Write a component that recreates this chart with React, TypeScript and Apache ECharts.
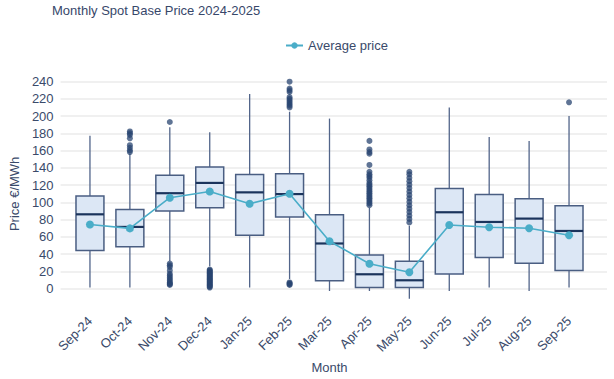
import React, { useEffect, useRef } from "react";
import * as echarts from "echarts";

const months = ["Sep-24", "Oct-24", "Nov-24", "Dec-24", "Jan-25", "Feb-25", "Mar-25", "Apr-25", "May-25", "Jun-25", "Jul-25", "Aug-25", "Sep-25"];
const whiskerLow = [0, 0, 31, 25, 0, 10, -4, -4, -13, -4, 0, -4, 0];
const quartile1 = [43.3, 47.6, 89.3, 93, 61, 82.3, 8.1, 0, 0, 15.9, 35.2, 28.3, 20];
const medians = [85.4, 70.7, 110, 122, 111, 109, 51.4, 15.5, 8.5, 87.8, 76.5, 80.4, 66];
const quartile3 = [106.7, 91, 131, 140.7, 131.8, 132.6, 85, 38, 30.6, 115.6, 108.6, 103.6, 95.5];
const whiskerHigh = [177, 156, 187, 181, 225.7, 205, 197, 93, 72, 210, 175.5, 171, 200];
const averagePrice = [73.5, 69, 104.8, 112, 97.8, 109.4, 54, 27.8, 17.8, 73, 70.4, 69.2, 61];
const outliers: number[][] = [
  [],
  [182, 180, 178, 174, 166, 163, 160, 158],
  [193, 28, 26, 24, 20, 16, 14, 12, 10, 8, 6, 5, 4, 3],
  [21, 20, 19, 18, 17, 16, 15, 14, 13, 12, 11, 10, 9, 8, 7, 6, 5, 4, 3, 2, 1, 0],
  [],
  [240, 232, 230, 228, 222, 220, 218, 216, 214, 212, 210, 6, 5, 4, 3],
  [],
  [171, 161, 158, 156, 143, 135, 132, 130, 128, 125, 122, 120, 118, 116, 114, 112, 110, 108, 106, 104, 102, 100, 98, 96],
  [135, 132, 128, 124, 120, 116, 112, 108, 104, 100, 96, 92, 88, 84, 80, 76],
  [],
  [],
  [],
  [216],
];

const TEXT = "#3a4a6a";
const FONT = "Liberation Sans, Arial, sans-serif";

export default function App() {
  const ref = useRef<HTMLDivElement>(null);
  useEffect(() => {
    if (!ref.current) return;
    const chart = echarts.init(ref.current, undefined, { renderer: "svg" });
    const boxData = months.map((_, i) => [i, whiskerLow[i], quartile1[i], medians[i], quartile3[i], whiskerHigh[i]]);
    const outlierData: number[][] = [];
    outliers.forEach((arr, i) => arr.forEach((v) => outlierData.push([i, v])));
    chart.setOption({
      animation: false,
      backgroundColor: "#ffffff",
      textStyle: { fontFamily: FONT },
      title: {
        text: "Monthly Spot Base Price 2024-2025",
        left: 52,
        top: 4,
        padding: 0,
        textStyle: { fontSize: 13, fontWeight: "normal", color: "#37476a", fontFamily: FONT },
      },
      legend: {
        data: ["Average price"],
        left: 280,
        top: 34,
        itemWidth: 17,
        itemHeight: 8,
        itemGap: 8,
        textStyle: { fontSize: 13, color: TEXT, fontFamily: FONT },
      },
      grid: [
        { left: 52, right: 7, top: 81.7, bottom: 73 },
        { left: 70, right: 25, top: 81.7, bottom: 73 },
      ],
      xAxis: [
        { type: "value", gridIndex: 0, min: 0, max: 1, show: false },
        {
          type: "category",
          gridIndex: 1,
          data: months,
          boundaryGap: true,
          axisLine: { show: false },
          axisTick: { show: false },
          axisLabel: { rotate: 45, fontSize: 13, color: TEXT, margin: 14, interval: 0, fontFamily: FONT },
          name: "Month",
          nameLocation: "middle",
          nameGap: 53,
          nameTextStyle: { fontSize: 13, color: TEXT, fontFamily: FONT },
        },
      ],
      yAxis: [
        {
          type: "value",
          gridIndex: 0,
          min: -20,
          max: 240,
          interval: 20,
          axisLine: { show: false },
          axisTick: { show: false },
          axisLabel: {
            fontSize: 13,
            color: TEXT,
            margin: 7,
            fontFamily: FONT,
            formatter: (v: number) => (v < 0 ? "" : String(v)),
          },
          splitLine: { show: true, showMinLine: false, lineStyle: { color: "#ebebeb", width: 1.5 } },
          name: "Price €/MWh",
          nameLocation: "middle",
          nameGap: 38,
          nameRotate: 90,
          nameTextStyle: { fontSize: 13, color: TEXT, fontFamily: FONT },
        },
        { type: "value", gridIndex: 1, min: -20, max: 240, interval: 20, show: false },
      ],
      series: [
        {
          type: "custom",
          name: "Distribution",
          xAxisIndex: 1,
          yAxisIndex: 1,
          data: boxData,
          encode: { x: 0, y: [1, 2, 3, 4, 5] },
          z: 2,
          renderItem: (params: any, api: any) => {
            const i = api.value(0);
            const lo = api.coord([i, api.value(1)]);
            const q1p = api.coord([i, api.value(2)]);
            const md = api.coord([i, api.value(3)]);
            const q3p = api.coord([i, api.value(4)]);
            const hi = api.coord([i, api.value(5)]);
            const bw = api.size([1, 0])[0] * 0.7;
            const x = lo[0];
            return {
              type: "group",
              children: [
                { type: "line", shape: { x1: x, y1: lo[1], x2: x, y2: hi[1] }, style: { stroke: "#52658a", lineWidth: 1.3 } },
                {
                  type: "rect",
                  shape: { x: x - bw / 2, y: q3p[1], width: bw, height: q1p[1] - q3p[1] },
                  style: { fill: "#dce7f5", stroke: "#4a5e82", lineWidth: 1.5 },
                },
                { type: "line", shape: { x1: x - bw / 2, y1: md[1], x2: x + bw / 2, y2: md[1] }, style: { stroke: "#1b345c", lineWidth: 2.2 } },
              ],
            };
          },
        },
        {
          type: "scatter",
          name: "Outliers",
          xAxisIndex: 1,
          yAxisIndex: 1,
          data: outlierData,
          symbol: "circle",
          symbolSize: 6,
          itemStyle: { color: "#2a4672", opacity: 0.75 },
          z: 3,
        },
        {
          type: "line",
          name: "Average price",
          xAxisIndex: 1,
          yAxisIndex: 1,
          data: averagePrice,
          symbol: "circle",
          symbolSize: 8,
          lineStyle: { color: "#4aadc8", width: 1.6 },
          itemStyle: { color: "#4aadc8" },
          z: 4,
        },
      ],
    });
    return () => chart.dispose();
  }, []);
  return (
    <div
      ref={ref}
      style={{ position: "fixed", left: 0, top: 0, width: 614, height: 379, background: "#fff" }}
    />
  );
}
